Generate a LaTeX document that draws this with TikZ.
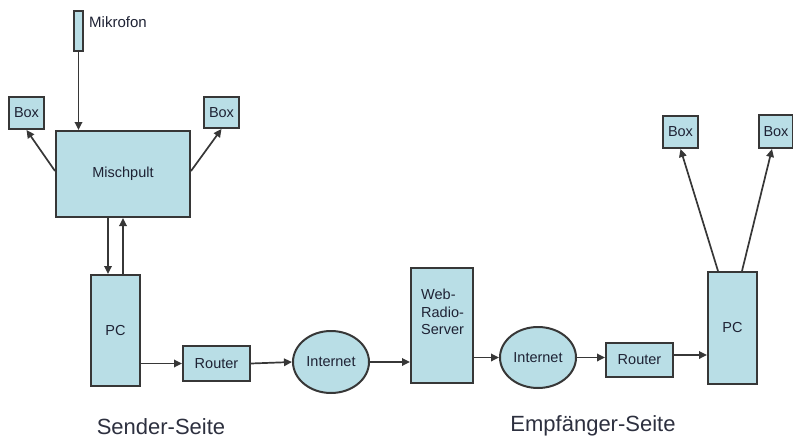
\documentclass[tikz,border=0pt]{standalone}
\usepackage{fontspec}
\setmainfont{Liberation Sans}
\usetikzlibrary{arrows.meta,shapes.geometric,calc}
\definecolor{fillc}{RGB}{185,222,230}
\definecolor{strokec}{RGB}{55,55,55}
\definecolor{textc}{RGB}{30,34,52}
\tikzset{
  blk/.style={draw=strokec, fill=fillc, line width=2pt, inner sep=0pt, text=textc, font=\fontsize{14.5}{17}\selectfont},
  oval/.style={blk, ellipse},
  arr/.style={draw=strokec, line width=1.7pt, -{Triangle[width=7.5pt,length=8pt]}},
  side/.style={text=textc!85!gray, font=\fontsize{22}{26}\selectfont, inner sep=0pt}
}
\begin{document}
\begin{tikzpicture}[x=1pt,y=-1pt]
\useasboundingbox (0,0) rectangle (793,439);
\node[blk, minimum width=9pt, minimum height=40pt] (mik) at (78.5,30.5) {};
\node[anchor=west, inner sep=0pt, text=textc, font=\fontsize{15}{17}\selectfont] (mikl) at (89,22) {Mikrofon};
\node[blk, minimum width=35pt, minimum height=32pt] (boxL) at (26.5,113) {Box};
\node[blk, minimum width=35pt, minimum height=31pt] (boxR) at (221.5,112.5) {Box};
\node[blk, minimum width=134pt, minimum height=86pt] (misch) at (123,174) {Mischpult};
\node[blk, minimum width=49pt, minimum height=111pt] (pcL) at (115.5,330.5) {PC};
\node[blk, minimum width=67pt, minimum height=35pt] (routL) at (216.5,363.5) {Router};
\node[oval, minimum width=76pt, minimum height=62pt] (netL) at (331,362) {Internet};
\node[blk, minimum width=62pt, minimum height=115pt] (srv) at (442,325.5) {};
\node[anchor=north west, inner sep=0pt, text=textc, font=\fontsize{14.5}{17.5}\selectfont, align=left] (srvt) at (421,289) {Web-\\Radio-\\Server};
\node[oval, minimum width=76pt, minimum height=61pt] (netR) at (538,357.5) {Internet};
\node[blk, minimum width=67pt, minimum height=34pt] (routR) at (639.5,360) {Router};
\node[blk, minimum width=49pt, minimum height=112pt] (pcR) at (732.5,328) {PC};
\node[blk, minimum width=35pt, minimum height=32pt] (boxR1) at (680.5,132) {Box};
\node[blk, minimum width=34pt, minimum height=33pt] (boxR2) at (776,131.5) {Box};
\node[side, anchor=base] (sender) at (161,434) {Sender-Seite};
\node[side, anchor=base] (empf) at (593,431) {Empfänger-Seite};
% connectors
\draw[arr] (mik.south) -- (mik.south |- misch.north);
\draw[arr] ([yshift=3pt]misch.west) -- (boxL.south);
\draw[arr] ([yshift=3pt]misch.east) -- (boxR.south);
\draw[arr] ([xshift=-7.5pt]pcL.north |- misch.south) -- ([xshift=-7.5pt]pcL.north);
\draw[arr] ([xshift=7.5pt]pcL.north) -- ([xshift=7.5pt]pcL.north |- misch.south);
\draw[arr] (pcL.east |- routL.west) -- (routL.west);
\draw[arr] (routL.east) -- (netL.west);
\draw[arr] (netL.east) -- (netL.east -| srv.west);
\draw[arr] (srv.east |- netR.west) -- (netR.west);
\draw[arr] (netR.east) -- (netR.east -| routR.west);
\draw[arr] ([yshift=5pt]routR.east) -- ([yshift=5pt]routR.east -| pcR.west);
\draw[arr] ([xshift=-14.5pt]pcR.north) -- (boxR1.south);
\draw[arr] ([xshift=9.5pt]pcR.north) -- ([xshift=-4pt]boxR2.south);
\end{tikzpicture}
\end{document}
